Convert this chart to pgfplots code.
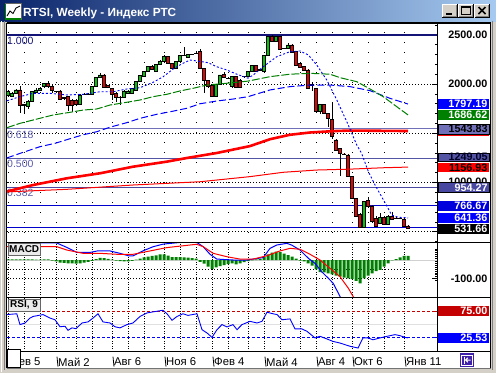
\documentclass[border=0pt]{standalone}
\usepackage{pgfplots}
\pgfplotsset{compat=1.18}
\usepackage{pgfplotstable}
\usepackage{fontspec}
\setmainfont{Liberation Sans}
\definecolor{winGray}{RGB}{212,208,200}
\definecolor{titleL}{RGB}{10,36,106}
\definecolor{titleR}{RGB}{166,202,240}
\definecolor{bull}{RGB}{0,200,0}
\definecolor{bear}{RGB}{235,0,0}
\definecolor{fibA}{RGB}{20,20,120}
\definecolor{fibB}{RGB}{112,112,184}
\definecolor{fibC}{RGB}{84,84,164}
\definecolor{fibD}{RGB}{72,72,160}
\definecolor{fibT}{RGB}{90,90,170}
\definecolor{hblue}{RGB}{0,0,204}
\definecolor{maGreen}{RGB}{0,128,0}
\definecolor{pBlue}{RGB}{0,0,255}
\definecolor{pBlue2}{RGB}{0,0,220}
\definecolor{rsiRed}{RGB}{196,0,0}
\definecolor{btnBlue}{RGB}{64,32,168}
\newcommand\ff[1]{\fontsize{#1}{#1}\selectfont}
\tikzset{pbox/.style={anchor=west, minimum height=10pt, text width=47.5pt, align=right,
  inner xsep=1.75pt, inner ysep=0pt, font=\ff{10.8}\bfseries}}
\pgfplotsset{panel/.style={scale only axis, width=430.5pt, anchor=north west,
  xmin=-0.25, xmax=107.375, axis line style={draw=none}, xtick=\empty,
  ytick pos=right, tick align=inside, yticklabels={}, major tick length=5.5pt,
  minor tick length=2.5pt, tick style={black, line width=0.8pt}, clip mode=individual}}

\pgfplotstableread{
n o h l c
0 1885 1935 1870 1922
1 1875 1915 1865 1905
2 1905 1950 1895 1940
3 1940 1985 1705 1787
4 1795 1800 1700 1780
5 1775 1835 1745 1825
6 1828 1930 1820 1922
7 1920 1955 1910 1940
8 1940 1975 1930 1957
9 1974 2015 1965 2008
10 2008 2030 1965 1974
11 1980 1990 1910 1940
12 1925 1930 1915 1922
13 1930 1935 1840 1848
14 1865 1870 1840 1850
15 1872 1880 1726 1787
16 1838 1845 1720 1787
17 1838 1845 1780 1794
18 1797 1895 1790 1889
19 1895 1905 1890 1899
20 1898 1905 1890 1900
21 1896 1985 1890 1980
22 1974 2075 1970 2068
23 2065 2110 2060 2092
24 2092 2100 1955 1963
25 1990 1995 1955 1963
26 1957 1965 1838 1899
27 1906 1915 1815 1862
28 1870 1880 1787 1865
29 1862 1935 1855 1930
30 1906 1940 1900 1930
31 1906 1965 1900 1957
32 1940 2035 1935 2031
33 2031 2090 2025 2085
34 2075 2135 2070 2125
35 2125 2185 2120 2176
36 2183 2190 2140 2149
37 2132 2205 2125 2200
38 2200 2245 2195 2234
39 2234 2290 2230 2278
40 2278 2285 2205 2210
41 2210 2215 2150 2160
42 2160 2235 2155 2227
43 2227 2300 2220 2295
44 2290 2373 2285 2292
45 2268 2310 2260 2302
46 2300 2310 2295 2302
47 2310 2340 2305 2312
48 2329 2356 2150 2160
49 2160 2165 1906 2041
50 2041 2045 1965 1974
51 1990 1995 1865 1872
52 1872 2000 1865 1997
53 1997 2095 1990 2092
54 2100 2125 2065 2070
55 2060 2068 2050 2058
56 1974 2080 1965 2075
57 2075 2085 1955 1963
58 2041 2050 1955 1963
59 2074 2085 2065 2076
60 2075 2135 2070 2125
61 2126 2195 2120 2187
62 2187 2195 2125 2132
63 2143 2155 2135 2145
64 2126 2300 2120 2295
65 2295 2485 2290 2481
66 2481 2498 2430 2437
67 2437 2485 2430 2481
68 2481 2485 2345 2353
69 2362 2370 2355 2364
70 2363 2420 2360 2397
71 2397 2405 2315 2322
72 2329 2335 2180 2187
73 2210 2215 2160 2166
74 2176 2185 2135 2143
75 2143 2150 1950 1957
76 1992 2025 1925 1990
77 1957 1965 1710 1720
78 1726 1800 1700 1794
79 1794 1800 1695 1703
80 1703 1710 1567 1652
81 1642 1821 1440 1465
82 1432 1440 1320 1330
83 1347 1355 1066 1296
84 1290 1300 1280 1288
85 1280 1285 1060 1066
86 1066 1070 830 840
87 840 845 650 660
88 680 690 540 545
89 545 815 540 805
90 815 854 745 755
91 762 770 590 602
92 637 660 545 551
93 586 690 580 647
94 647 660 575 580
95 580 670 575 657
96 653 704 625 630
97 640 655 630 638
98 637 650 630 635
99 630 640 555 559
100 559 565 525 531.66
}\ohlc

\pgfplotstableread{
n v
0 4
1 4
2 4
3 4
4 4
5 3
6 3
7 2
8 2
9 3
10 3
11 -3
12 -8
13 -14
14 -16
15 -18
16 -18
17 -20
18 -18
19 -14
20 -10
21 -5
22 5
23 12
24 10
25 6
26 2
27 -3
28 -6
29 -8
30 -8
31 -5
32 2
33 8
34 14
35 18
36 22
37 25
38 30
39 30
40 24
41 16
42 15
43 15
44 14
45 13
46 10
47 8
48 -10
49 -20
50 -36
51 -48
52 -40
53 -33
54 -28
55 -22
56 -18
57 -24
58 -18
59 -12
60 -6
61 -2
62 3
63 5
64 15
65 30
66 40
67 45
68 42
69 35
70 27
71 18
72 8
73 -3
74 -8
75 -18
76 -30
77 -50
78 -65
79 -67
80 -72
81 -77
82 -84
83 -90
84 -95
85 -99
86 -103
87 -113
88 -126
89 -99
90 -85
91 -72
92 -60
93 -54
94 -36
95 -18
96 -2
97 5
98 14
99 23
100 23
}\macdh

\begin{document}
\begin{tikzpicture}
\useasboundingbox (0,0) rectangle (496pt,-373pt);
% window frame
\fill[winGray] (0,0) rectangle (496pt,-373pt);
\shade[left color=titleL, right color=titleR] (0,0) rectangle (496pt,-21pt);
\fill[white] (7pt,-23pt) rectangle (490pt,-368pt);

% ===== main panel: grid, levels, wicks =====
\begin{axis}[panel, at={(7pt,-24.5pt)}, height=218pt, ymin=390.97, ymax=2604.76,
  ytick={500,1000,1500,2000,2500}, minor ytick={400,500,...,2600}]
\pgfplotsinvokeforeach{0,4,8,12,17,21,26,30,34,39,43,47,51,55,60,64,68,73,77,81,86,90,94,99}{
  \addplot[black, line width=0.8pt, dash pattern=on 0.8pt off 9.2pt] coordinates {(#1,390.97) (#1,2604.76)};}
\pgfplotsinvokeforeach{500,1000,1500,2000,2500}{
  \addplot[black, line width=0.8pt, dash pattern=on 0.8pt off 2.2pt] coordinates {(-0.25,#1) (107.375,#1)};}
\addplot[fibA, line width=1.3pt] coordinates {(-0.25,2498.1) (107.375,2498.1)};
\addplot[fibB, line width=1pt] coordinates {(-0.25,1543.83) (107.375,1543.83)};
\addplot[fibC, line width=1pt] coordinates {(-0.25,1249.05) (107.375,1249.05)};
\addplot[fibD, line width=1pt] coordinates {(-0.25,954.27) (107.375,954.27)};
\addplot[hblue, line width=1.2pt] coordinates {(-0.25,766.67) (107.375,766.67)};
\addplot[hblue, line width=1.2pt] coordinates {(-0.25,545) (107.375,545)};
\node[anchor=north west, inner sep=0pt, text=fibA, font=\ff{10.5}, yshift=-1.5pt] at (axis cs:-0.25,2498.1) {1.000};
\node[anchor=north west, inner sep=0pt, text=fibT, font=\ff{10.5}, yshift=-1.5pt] at (axis cs:-0.25,1543.83) {0.618};
\node[anchor=north west, inner sep=0pt, text=fibT, font=\ff{10.5}, yshift=-1.5pt] at (axis cs:-0.25,1249.05) {0.500};
\node[anchor=north west, inner sep=0pt, text=fibT, font=\ff{10.5}, yshift=-1.5pt] at (axis cs:-0.25,954.27) {0.382};
\addplot[black, only marks, mark=*, mark size=0pt, error bars/.cd, y dir=both, y explicit,
  error mark=none, error bar style={black, line width=0.9pt}]
  table[x=n, y expr={(\thisrow{h}+\thisrow{l})/2}, y error expr={(\thisrow{h}-\thisrow{l})/2}] \ohlc;
\end{axis}

% ===== candle bodies =====
\begin{axis}[scale only axis, width=430.5pt, height=218pt, anchor=north west, at={(7pt,-24.5pt)},
  xmin=-0.25, xmax=107.375, ymin=390.97, ymax=2604.76, axis lines=none,
  ybar stacked, bar width=3.4pt]
\addplot[fill=none, draw=none] table[x=n, y expr={min(\thisrow{o},\thisrow{c})}] \ohlc;
\addplot[fill=bull, draw=black, line width=0.7pt] table[x=n, y expr={max(\thisrow{c}-\thisrow{o},0)}] \ohlc;
\addplot[fill=bear, draw=black, line width=0.7pt] table[x=n, y expr={max(\thisrow{o}-\thisrow{c},0)}] \ohlc;
\end{axis}

% ===== moving averages and price scale =====
\begin{axis}[scale only axis, width=430.5pt, height=218pt, anchor=north west, at={(7pt,-24.5pt)},
  xmin=-0.25, xmax=107.375, ymin=390.97, ymax=2604.76, axis lines=none, clip mode=individual]
\addplot[red, line width=2.6pt] coordinates {(-0.25,910) (6.3,975) (14.7,1043) (23,1094) (31.3,1161) (39.7,1212) (44.7,1249) (52.2,1300) (60.5,1370) (65.5,1440) (70.5,1485) (75.5,1508) (81.3,1522) (85.5,1528) (100,1523)};
\addplot[red, line width=1pt] coordinates {(-0.25,905) (14.7,931) (31.3,975) (48,1008) (60.5,1060) (68.8,1104) (77.2,1127) (85.5,1136) (93.8,1150) (100,1156.93)};
\addplot[pBlue, line width=1pt, dash pattern=on 7pt off 3pt] coordinates {(-0.25,1250) (3,1296) (8,1364) (11.75,1398) (15.5,1445) (18.8,1485) (22.2,1516) (25.5,1562) (29.7,1608) (33,1652) (37.2,1693) (41.3,1725) (44.7,1754) (48,1800) (52.2,1828) (56.3,1848) (60,1872) (65.5,1940) (70.5,1974) (75.5,1990) (80.5,1990) (85.5,1974) (90.5,1933) (95.5,1855) (100,1797.19)};
\addplot[maGreen, line width=1pt, dash pattern=on 8pt off 2pt] coordinates {(-0.25,1557) (3,1601) (6.3,1635) (11.3,1686) (15.5,1713) (18.8,1736) (22.2,1747) (25.5,1787) (29.7,1815) (33,1838) (36.3,1872) (39.7,1896) (43,1930) (46.3,1957) (49.7,1990) (54.7,2008) (60,2030) (65.5,2075) (70.5,2100) (75.5,2109) (80.5,2100) (83,2065) (87.2,2024) (90.5,1950) (93.8,1872) (97.2,1770) (100,1686.62)};
\addplot[pBlue, line width=0.9pt, dash pattern=on 2pt off 2pt] coordinates {(-0.25,1830) (3,1872) (6.3,1906) (10.5,1906) (14.7,1889) (18.8,1896) (23,1922) (26.3,1922) (29.7,1950) (33,1963) (36.3,2018) (38.8,2075) (41.3,2153) (43.4,2204) (45.5,2244) (48,2230) (50,2217) (52.2,2176) (54.7,2143) (57.2,2100) (60,2060) (61.3,2092) (63.8,2176) (67.2,2278) (70.5,2329) (73,2336) (75.1,2295) (77.2,2193) (79.7,2041) (82.2,1838) (84.7,1618) (87.2,1381) (88.4,1296) (90.1,1110) (91.75,975) (93.4,856) (94.8,755) (95.9,670) (97.6,647) (100,641.36)};
% price scale texts
\node[pbox] at (axis cs:107.5,2500) {2500.00};
\node[pbox] at (axis cs:107.5,2000) {2000.00};
\node[pbox, yshift=1pt, minimum height=8pt] at (axis cs:107.5,1000) {1000.00};
\node[pbox, fill=pBlue, text=white] at (axis cs:107.5,1797.19) {1797.19};
\node[pbox, fill=maGreen, text=white] at (axis cs:107.5,1686.62) {1686.62};
\node[pbox, fill=red] at (axis cs:107.5,1522) {};
\node[pbox, fill=fibB, draw=black, line width=0.8pt, text=black] at (axis cs:107.5,1543.83) {1543.83};
\node[pbox, fill=fibC, draw=black, line width=0.8pt, text=black!85!blue, minimum height=8.6pt, yshift=0.8pt] at (axis cs:107.5,1249.05) {1249.05};
\node[pbox, fill=red, text=black, minimum height=9.4pt, yshift=-0.3pt] at (axis cs:107.5,1156.93) {1156.93};
\node[pbox, fill=fibD, draw=black, line width=0.8pt, text=white, minimum height=9.4pt, yshift=-0.4pt] at (axis cs:107.5,954.27) {954.27};
\node[pbox, fill=pBlue2, text=white] at (axis cs:107.5,766.67) {766.67};
\node[pbox, fill=pBlue, text=white] at (axis cs:107.5,641.36) {641.36};
\node[pbox, fill=black, text=white] at (axis cs:107.5,531.66) {531.66};
\end{axis}

% ===== MACD panel =====
\begin{axis}[panel, at={(7pt,-242.5pt)}, height=55pt, ymin=-202.7, ymax=94.6,
  ytick={-100}, minor ytick={-110,-100,...,60}]
\pgfplotsinvokeforeach{0,4,8,12,17,21,26,30,34,39,43,47,51,55,60,64,68,73,77,81,86,90,94,99}{
  \addplot[black, line width=0.8pt, dash pattern=on 0.8pt off 1.7pt] coordinates {(#1,-202.7) (#1,94.6)};}
\addplot[black!18, line width=1pt] coordinates {(-0.25,0) (107.375,0)};
\addplot[black, line width=0.8pt, dash pattern=on 0.8pt off 2.2pt] coordinates {(-0.25,-50) (100.5,-50)};
\addplot[black, line width=0.8pt, dash pattern=on 0.8pt off 2.2pt] coordinates {(-0.25,-100) (100.5,-100)};
\addplot[ybar, bar width=3pt, fill=maGreen, draw=none] table[x=n, y=v] \macdh;
\addplot[pBlue, line width=1pt] coordinates {(-0.25,95) (12.2,92) (14.5,70) (17.2,41) (20.5,41) (22.6,50) (25.5,49) (28,36) (30.1,23) (31.3,23) (33.8,50) (36.3,72) (38.8,86) (43,95) (47.2,95) (48.8,72) (50.5,31) (52.2,5) (56.3,0) (59.7,0) (61.3,5) (63.8,13) (65.5,63) (67.2,81) (69.7,90) (70.9,81) (73,54) (75.1,9) (76.75,-18) (78.4,-63) (80.1,-99) (81.3,-126) (82.6,-180) (83.4,-215)};
\addplot[red, line width=1pt] coordinates {(-0.25,72) (12.2,72) (14.7,54) (18.8,36) (23,36) (27.2,31) (31.3,31) (35.5,49) (39.7,67) (43.8,77) (47.2,85) (48.8,72) (51.3,36) (54.7,18) (58,5) (61.3,5) (64.7,23) (68,49) (70.5,63) (73,58) (75.5,31) (78,0) (80.5,-45) (83,-90) (85.1,-153) (86.3,-198) (87,-230)};
\node[pbox] at (axis cs:107.5,-100) {-100.00};
\end{axis}

% ===== RSI panel =====
\begin{axis}[panel, at={(7pt,-297.5pt)}, height=54.2pt, ymin=0, ymax=100,
  ytick=\empty, minor ytick={5,10,...,95}]
\pgfplotsinvokeforeach{0,4,8,12,17,21,26,30,34,39,43,47,51,55,60,64,68,73,77,81,86,90,94,99}{
  \addplot[black, line width=0.8pt, dash pattern=on 0.8pt off 1.7pt] coordinates {(#1,0) (#1,100)};}
\addplot[black!12, line width=1pt] coordinates {(-0.25,50) (107.375,50)};
\addplot[rsiRed, line width=1pt, dash pattern=on 3pt off 2pt] coordinates {(-0.25,75) (107.375,75)};
\addplot[pBlue, line width=1pt, dash pattern=on 3pt off 2pt] coordinates {(-0.25,25.53) (107.375,25.53)};
\addplot[pBlue, line width=0.9pt] coordinates {(-0.25,68.5) (2.2,70) (3,50) (4.25,53) (5.5,62) (6.25,65) (8.75,68.5) (10.5,62) (11.75,59) (13,46) (14.25,47) (15,39.5) (16,44) (17,42.5) (18.5,53) (20,55) (21.25,62) (22.5,70) (23.75,55) (25.5,53) (26.75,46) (28,44) (29.75,50) (31.25,53) (33,65) (34.75,71.5) (36.25,73.5) (38.75,76.5) (39.75,70) (41,58) (42.25,65) (43.75,70) (45,67) (47.25,70) (48.5,40.7) (49.75,34.6) (51,26.5) (52.25,40.7) (53.5,50) (54.75,45.7) (56.25,50) (57.25,40.7) (58.5,50) (60.5,56) (62.25,53) (63.5,56) (64.75,72.8) (66.25,70) (67.25,68.5) (68.5,59) (70.5,60.5) (71.75,42) (73.5,42) (74.75,37.6) (76.75,25.4) (78,28.4) (79.75,23.5) (81.25,19) (83,16) (85.5,10) (87.5,6.8) (88.75,25.4) (90,25.4) (91.25,22) (93,25.4) (94.75,28.4) (96.75,31.5) (98,29.6) (99.25,26.5) (100,25.53)};
\draw[rsiRed, line width=1pt] (axis cs:107.375,75) -- ++(-5.5pt,0);
\draw[pBlue, line width=1pt] (axis cs:107.375,25.53) -- ++(-5.5pt,0);
\node[pbox, fill=rsiRed, text=white, minimum height=9.3pt] at (axis cs:107.5,75) {75.00};
\node[pbox, fill=pBlue, text=white, minimum height=9.3pt] at (axis cs:107.5,25.53) {25.53};
% time scale
\pgfplotsinvokeforeach{12,26,39,51,64,77,86,99}{
  \draw[black, line width=0.8pt] (axis cs:#1,0) ++(0,-5pt) -- ++(0,-10pt);}
\tikzset{tlab/.style={anchor=north west, inner sep=0pt, xshift=2pt, yshift=-6pt, font=\ff{11.3}}}
\node[tlab] at (axis cs:0,0) {Фев 5};
\node[tlab] at (axis cs:12,0) {Май 2};
\node[tlab] at (axis cs:26,0) {Авг 6};
\node[tlab] at (axis cs:39,0) {Ноя 6};
\node[tlab] at (axis cs:51,0) {Фев 4};
\node[tlab] at (axis cs:64,0) {Май 4};
\node[tlab] at (axis cs:77,0) {Авг 4};
\node[tlab] at (axis cs:86,0) {Окт 6};
\node[tlab] at (axis cs:99,0) {Янв 11};
\end{axis}

% ===== separators and widgets =====
\draw[black, line width=1.4pt] (7pt,-242.5pt) -- (490pt,-242.5pt);
\draw[black, line width=1.4pt] (7pt,-297.5pt) -- (490pt,-297.5pt);
\draw[black, line width=1.4pt] (7pt,-351.7pt) -- (490pt,-351.7pt);
\draw[black, line width=1pt] (437.5pt,-23pt) -- (437.5pt,-351.7pt);
\draw[black, line width=1.3pt] (6.5pt,-23pt) -- (490.5pt,-23pt);
\draw[black, line width=1pt] (6.5pt,-23pt) -- (6.5pt,-368pt);
\draw[black, line width=1pt] (490.5pt,-23pt) -- (490.5pt,-368pt);
\draw[black!55, line width=1pt] (6.5pt,-368pt) -- (490.5pt,-368pt);
\draw[black!50, line width=1pt] (4.5pt,-21pt) -- (4.5pt,-370pt);
\draw[white, line width=0.8pt] (1pt,-21pt) -- (1pt,-372pt);
\draw[black!50, line width=1pt] (492.5pt,-21pt) -- (492.5pt,-370pt);

\node[draw=black!60, fill=black!8, anchor=north west, inner xsep=1.5pt, inner ysep=0pt,
  minimum height=12pt, font=\ff{10}\bfseries] at (7.5pt,-243.3pt) {MACD};
\node[draw=black!60, fill=black!8, anchor=north west, inner xsep=2.5pt, inner ysep=0pt,
  minimum height=11.5pt, font=\ff{10}\bfseries] at (7.5pt,-299.3pt) {RSI, 9};

\draw[black, fill=white, line width=0.8pt] (7.5pt,-349.5pt) rectangle (20pt,-367.5pt);

\fill[btnBlue] (460pt,-353pt) rectangle (474pt,-367pt);
\draw[white, line width=0.8pt] (461.8pt,-355pt) rectangle (472.2pt,-365pt);
\draw[white, line width=1pt] (464pt,-356.5pt) -- (464pt,-363.5pt);
\draw[white, line width=1pt] (470.5pt,-360pt) -- (465.5pt,-360pt) (467.8pt,-357.8pt) -- (465.6pt,-360pt) -- (467.8pt,-362.2pt);

% title bar
\fill[white] (5pt,-3.5pt) rectangle (21pt,-19.5pt);
\draw[black!60, line width=0.6pt] (5pt,-3.5pt) rectangle (21pt,-19.5pt);
\draw[maGreen, line width=1.2pt] (5.6pt,-3.5pt) -- (5.6pt,-18.9pt) -- (21pt,-18.9pt);
\draw[black, line width=0.9pt] (7pt,-16pt) -- (10pt,-11pt) -- (13pt,-13.5pt) -- (16pt,-8pt) -- (20pt,-6pt);
\node[anchor=base west, inner sep=0pt, text=white, font=\ff{11.8}\bfseries] at (23pt,-16pt) {RTSI, Weekly - Индекс РТС};
\foreach \bx in {441.5,457.5,474} {
  \fill[winGray] (\bx pt,-3.5pt) rectangle ++(16pt,-14.5pt);
  \draw[white, line width=1pt] (\bx pt+0.5pt,-17.5pt) -- (\bx pt+0.5pt,-4pt) -- (\bx pt+15.5pt,-4pt);
  \draw[black, line width=1pt] (\bx pt+0.5pt,-17.5pt) -- (\bx pt+15.5pt,-17.5pt) -- (\bx pt+15.5pt,-4pt);
  \draw[black!50, line width=1pt] (\bx pt+1.5pt,-16.5pt) -- (\bx pt+14.5pt,-16.5pt) -- (\bx pt+14.5pt,-5pt);
}
\fill[black] (445.5pt,-12.5pt) rectangle (451.5pt,-14.5pt);
\draw[black, line width=1pt] (461.5pt,-6.5pt) rectangle (470.5pt,-14.5pt);
\fill[black] (461pt,-6pt) rectangle (471pt,-8pt);
\draw[black, line width=1.6pt] (478.5pt,-7pt) -- (485.5pt,-14pt) (478.5pt,-14pt) -- (485.5pt,-7pt);
\end{tikzpicture}
\end{document}
